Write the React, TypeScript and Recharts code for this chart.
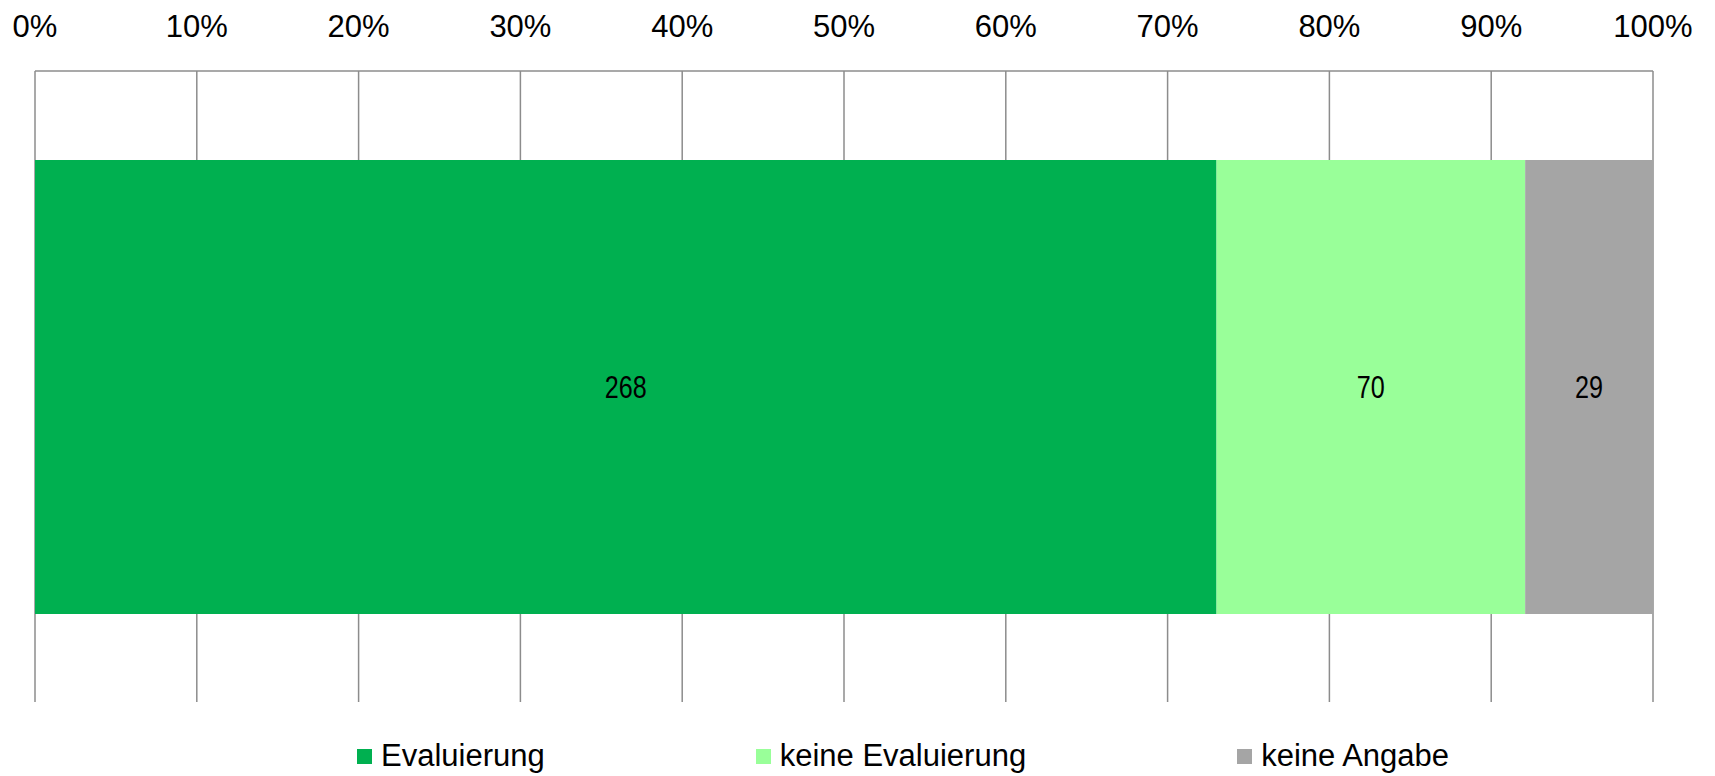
import React from 'react';
import { BarChart, Bar, XAxis, YAxis, CartesianGrid, Legend, LabelList } from 'recharts';

const categories = ['Gesamt'];
const seriesNames = ['Evaluierung', 'keine Evaluierung', 'keine Angabe'];
const evaluierung = [268];
const keineEvaluierung = [70];
const keineAngabe = [29];
const tickValues = [0, 0.1, 0.2, 0.3, 0.4, 0.5, 0.6, 0.7, 0.8, 0.9, 1];
const colors = ['#00B050', '#99FF99', '#A5A5A5'];
const keys = ['a', 'b', 'c'];

const data = categories.map((c, i) => ({
  name: c,
  a: evaluierung[i],
  b: keineEvaluierung[i],
  c: keineAngabe[i],
}));

const FONT = '"Liberation Sans", Arial, sans-serif';

const NarrowLabel = (props: any) => {
  const { x, y, width, height, value } = props;
  const s = String(value);
  return (
    <text
      x={x + width / 2}
      y={y + height / 2}
      textAnchor="middle"
      dominantBaseline="central"
      fontSize={31}
      fontFamily={FONT}
      fill="#000"
      textLength={14 * s.length}
      lengthAdjust="spacingAndGlyphs"
    >
      {s}
    </text>
  );
};

const LegendContent = () => (
  <div style={{ display: 'flex', gap: 211, paddingLeft: 349, fontFamily: FONT, fontSize: 31, color: '#000', lineHeight: '36px' }}>
    {seriesNames.map((n, i) => (
      <div key={n} style={{ display: 'flex', alignItems: 'center' }}>
        <span style={{ display: 'inline-block', width: 15, height: 15, background: colors[i], marginRight: 9 }} />
        <span>{n}</span>
      </div>
    ))}
  </div>
);

export default function App() {
  return (
    <div style={{ position: 'absolute', top: 8, left: 8, width: 1699, height: 768 }}>
      <BarChart
        width={1699}
        height={768}
        data={data}
        layout="vertical"
        stackOffset="expand"
        margin={{ top: 0, right: 54, bottom: 38, left: 27 }}
      >
        <CartesianGrid horizontal={false} stroke="#8C8C8C" strokeWidth={1.5} />
        <XAxis
          type="number"
          orientation="top"
          domain={[0, 1]}
          ticks={tickValues}
          tickFormatter={(v: number) => `${Math.round(v * 100)}%`}
          height={63}
          tickSize={0}
          tickMargin={34}
          axisLine={{ stroke: '#8C8C8C', strokeWidth: 1.5 }}
          tick={{ fill: '#000', fontSize: 31, fontFamily: FONT }}
          interval={0}
        />
        <YAxis type="category" dataKey="name" hide />
        <Legend verticalAlign="bottom" content={<LegendContent />} wrapperStyle={{ left: 0, bottom: 2 }} />
        {keys.map((k, i) => (
          <Bar key={k} dataKey={k} name={seriesNames[i]} stackId="s" fill={colors[i]} barSize={454} isAnimationActive={false}>
            <LabelList dataKey={k} content={<NarrowLabel />} />
          </Bar>
        ))}
      </BarChart>
    </div>
  );
}
